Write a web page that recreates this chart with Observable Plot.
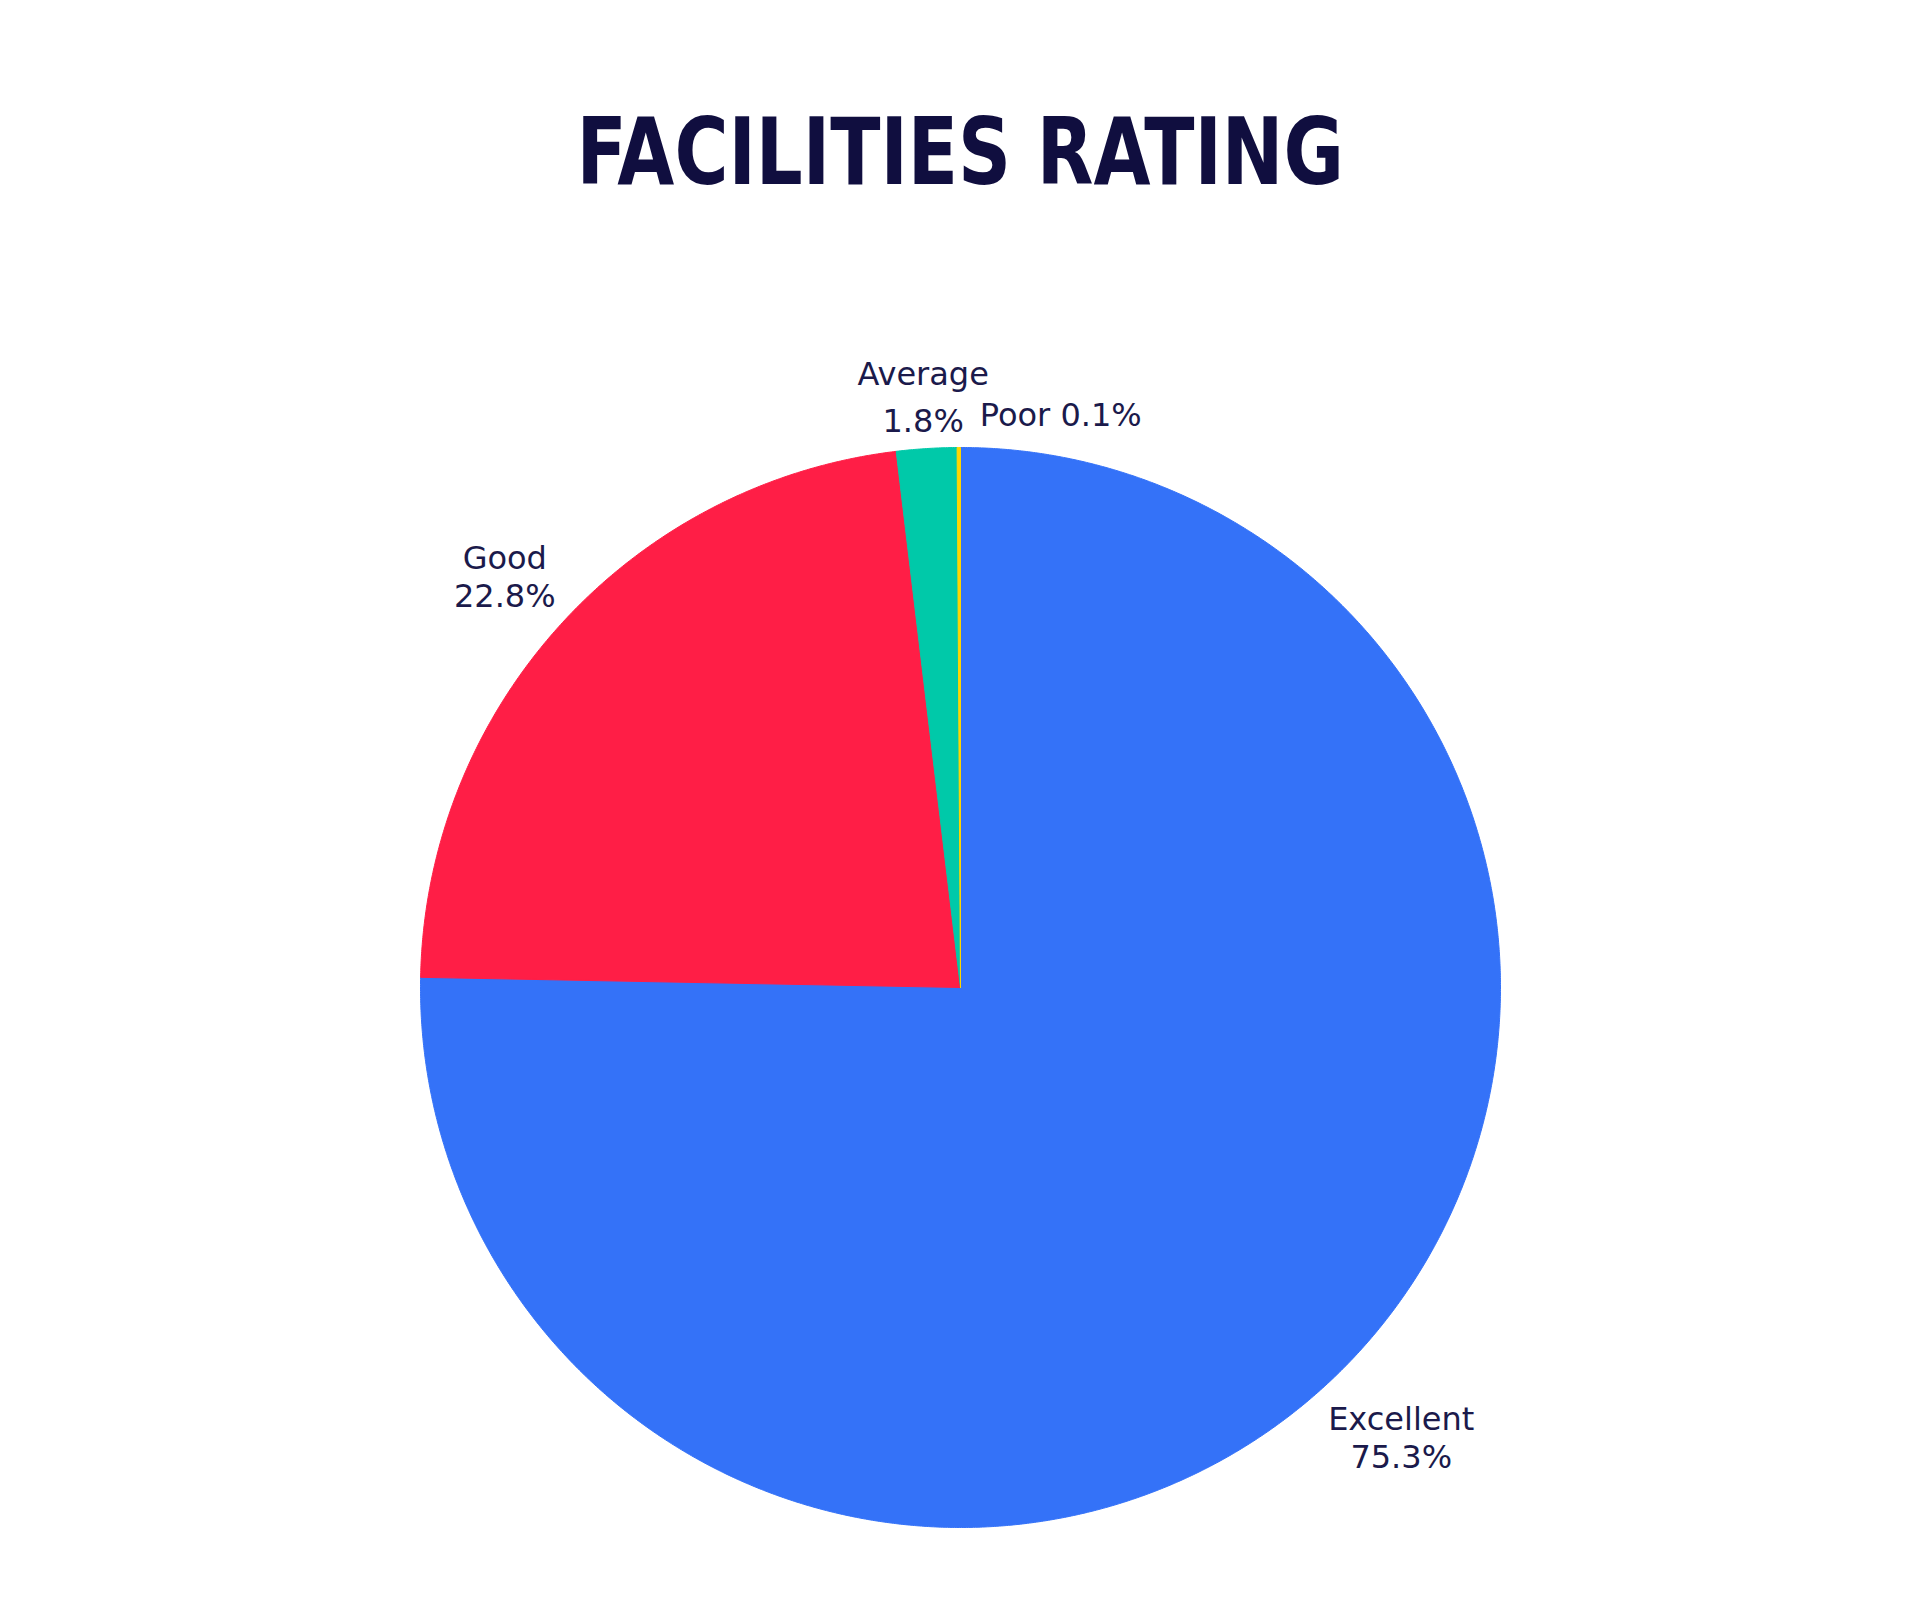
<!DOCTYPE html>
<html>
<head>
<meta charset="utf-8">
<script src="https://cdn.jsdelivr.net/npm/d3@7"></script>
<script src="https://cdn.jsdelivr.net/npm/@observablehq/plot@0.6"></script>
<style>
  body { margin: 0; background: #ffffff; }
  #titlebox {
    height: 230px; box-sizing: border-box; padding-top: 107px; margin: 0;
    text-align: center; width: 1920px;
  }
  #title {
    display: inline-block; transform: scaleX(0.89); transform-origin: 50% 50%;
    line-height: 92px;
    font-family: "Liberation Sans Narrow", "DejaVu Sans Condensed", sans-serif;
    font-weight: bold; font-size: 92px; color: #100e3f;
  }
  #chart { width: 1920px; }
</style>
</head>
<body>
<div id="titlebox"><span id="title">FACILITIES RATING</span></div>
<div id="chart"></div>
<script>
// ---- data ----
const categories = ["Excellent", "Good", "Average", "Poor"];
const values = [75.3, 22.8, 1.8, 0.1];
const colors = ["#3472F8", "#FF1E46", "#00C9A9", "#FFD500"];
const valueLabels = ["75.3%", "22.8%", "1.8%", "0.1%"];

// ---- geometry (layout constants) ----
const W = 1920, H = 1370;
const CX = 960, CY = 757;     // pie centre in svg pixels
const R = 540;                // radius
const FS = 32, LH = 1.2, LH_TOP = 1.45, GAP = 16;
const textColor = "#1b1a4b";
const font = `${FS}px "DejaVu Sans"`;

const total = d3.sum(values);
const slices = [];
let cum = 0;
categories.forEach((cat, i) => {
  const a0 = cum / total * 2 * Math.PI;
  cum += values[i];
  const a1 = cum / total * 2 * Math.PI;
  slices.push({cat, value: values[i], label: valueLabels[i], a0, a1, mid: (a0 + a1) / 2});
});

// polygon points for each slice (angle clockwise from top)
const pts = [];
for (const s of slices) {
  pts.push({cat: s.cat, x: 0, y: 0});
  const n = Math.max(2, Math.ceil((s.a1 - s.a0) / (Math.PI / 720)));
  for (let k = 0; k <= n; k++) {
    const a = s.a0 + (s.a1 - s.a0) * k / n;
    pts.push({cat: s.cat, x: R * Math.sin(a), y: R * Math.cos(a)});
  }
  pts.push({cat: s.cat, x: 0, y: 0});
}

// label placement
const ctx = document.createElement("canvas").getContext("2d");
ctx.font = font;
const sideLabels = [], topLabels = [], smallLabels = [];
for (const s of slices) {
  const share = s.value / total * 100;
  if (share < 1) {
    const d = R + 22;
    smallLabels.push({text: `${s.cat} ${s.label}`, x: d * Math.sin(s.mid), y: d * Math.cos(s.mid)});
  } else {
    const lines = [s.cat, s.label];
    const sx = Math.sin(s.mid), cy = Math.cos(s.mid);
    const isTop = Math.abs(cy) > 0.95;
    const lh = isTop ? LH_TOP : LH;
    const w = d3.max(lines, l => ctx.measureText(l).width);
    const h = 0.73 * FS + (lines.length - 1) * lh * FS;
    const d = R + GAP + Math.abs(sx) * w / 2 + Math.abs(cy) * h / 2;
    (isTop ? topLabels : sideLabels).push({text: lines.join("\n"), x: d * sx, y: d * cy});
  }
}

const textOpts = {x: "x", y: "y", text: "text", fontSize: FS, fontFamily: "DejaVu Sans", fill: textColor};

const chart = Plot.plot({
  width: W,
  height: H,
  margin: 0,
  x: {domain: [-CX, W - CX], axis: null},
  y: {domain: [-(H - CY), CY], axis: null},
  color: {domain: categories, range: colors},
  style: {background: "#ffffff"},
  marks: [
    Plot.line(pts, {x: "x", y: "y", z: "cat", fill: "cat", stroke: "cat", strokeWidth: 1, curve: "linear"}),
    Plot.text(sideLabels, {...textOpts, lineHeight: LH, textAnchor: "middle", lineAnchor: "middle"}),
    Plot.text(topLabels, {...textOpts, lineHeight: LH_TOP, textAnchor: "middle", lineAnchor: "middle"}),
    Plot.text(smallLabels, {...textOpts, textAnchor: "start", lineAnchor: "bottom", dx: 21})
  ]
});
document.getElementById("chart").appendChild(chart);
</script>
</body>
</html>
